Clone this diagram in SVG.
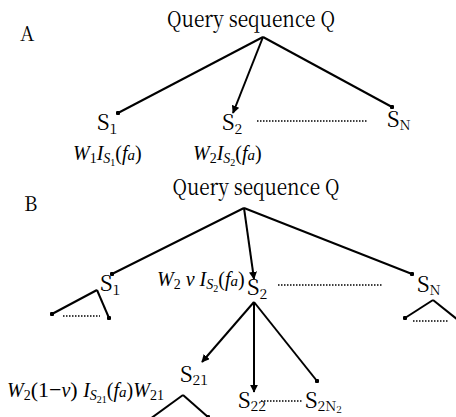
<svg xmlns="http://www.w3.org/2000/svg" width="456" height="417" viewBox="0 0 456 417">
<defs>
<marker id="arr" viewBox="0 0 10 10" refX="9" refY="5" markerWidth="4" markerHeight="4" orient="auto" markerUnits="strokeWidth">
<path d="M0,0 L10,5 L0,10 z" fill="#000"/>
</marker>
<marker id="dot" viewBox="0 0 10 10" refX="5" refY="5" markerWidth="2.2" markerHeight="2.2" markerUnits="strokeWidth">
<circle cx="5" cy="5" r="5" fill="#000"/>
</marker>
<style>
text{fill:#000}
.i{font-style:italic}
line{stroke:#000;stroke-width:2;fill:none}
.dots{stroke:#000;stroke-width:1.5;stroke-dasharray:1.5 1.5}
</style>
</defs>
<rect width="456" height="417" fill="#fff"/>

<g id="connectors">
<line x1="263" y1="37" x2="118" y2="113" marker-end="url(#dot)"/>
<line x1="263" y1="37" x2="233" y2="113" marker-end="url(#arr)"/>
<line x1="263" y1="37" x2="392" y2="107" marker-end="url(#dot)"/>
<line class="dots" x1="257" y1="121" x2="368" y2="121"/>
<line x1="244" y1="208" x2="112" y2="274" marker-end="url(#dot)"/>
<line x1="244" y1="208" x2="254" y2="279" marker-end="url(#arr)"/>
<line x1="244" y1="208" x2="412" y2="274" marker-end="url(#dot)"/>
<line class="dots" x1="278" y1="285" x2="383" y2="285"/>
<line x1="97" y1="290" x2="52" y2="314" marker-end="url(#dot)"/>
<line x1="97" y1="290" x2="109" y2="318" marker-end="url(#dot)"/>
<line class="dots" x1="63" y1="316" x2="100" y2="316"/>
<line x1="433" y1="300" x2="405" y2="318" marker-end="url(#dot)"/>
<line x1="433" y1="300" x2="458" y2="320"/>
<line class="dots" x1="413" y1="321" x2="448" y2="321"/>
<line x1="254" y1="302" x2="202" y2="362" marker-end="url(#arr)"/>
<line x1="254" y1="302" x2="254" y2="392" marker-end="url(#arr)"/>
<line x1="254" y1="302" x2="317" y2="381" marker-end="url(#dot)"/>
<line class="dots" x1="261" y1="401" x2="302" y2="401"/>
<line x1="183" y1="395" x2="150" y2="419"/>
<line x1="183" y1="395" x2="208" y2="417" marker-end="url(#dot)"/>
</g>

<g font-family="Noto Serif CJK SC, Liberation Serif, serif">
<g id="label-A"><text x="20" y="41" font-size="20" font-family="Noto Serif CJK SC, Liberation Serif, serif">A</text></g>
<g id="label-B"><text x="24" y="211" font-size="20" font-family="Noto Serif CJK SC, Liberation Serif, serif">B</text></g>

<g id="qA"><text x="251" y="27" font-size="22" font-family="Noto Serif CJK SC, Liberation Serif, serif" text-anchor="middle" textLength="168" lengthAdjust="spacingAndGlyphs">Query sequence Q</text></g>
<g id="qB"><text x="256" y="195" font-size="22" font-family="Noto Serif CJK SC, Liberation Serif, serif" text-anchor="middle" textLength="167" lengthAdjust="spacingAndGlyphs">Query sequence Q</text></g>

<g id="A-S1"><text x="97" y="130" font-size="22" font-family="Noto Serif CJK SC, Liberation Serif, serif">S<tspan font-size="14" dy="4">1</tspan></text></g>
<g id="A-S2"><text x="222" y="130" font-size="22" font-family="Noto Serif CJK SC, Liberation Serif, serif">S<tspan font-size="14" dy="4">2</tspan></text></g>
<g id="A-SN"><text x="387" y="127" font-size="22" font-family="Noto Serif CJK SC, Liberation Serif, serif">S<tspan font-size="14" dy="3">N</tspan></text></g>

<g id="B-S1"><text x="100" y="291" font-size="22" font-family="Noto Serif CJK SC, Liberation Serif, serif">S<tspan font-size="14" dy="4">1</tspan></text></g>
<g id="B-S2"><text x="247" y="295" font-size="22" font-family="Noto Serif CJK SC, Liberation Serif, serif">S<tspan font-size="14" dy="4">2</tspan></text></g>
<g id="B-SN"><text x="417" y="292" font-size="22" font-family="Noto Serif CJK SC, Liberation Serif, serif">S<tspan font-size="14" dy="3">N</tspan></text></g>
<g id="B-S21"><text x="180" y="382" font-size="22" font-family="Noto Serif CJK SC, Liberation Serif, serif">S<tspan font-size="14" dy="3">21</tspan></text></g>
<g id="B-S22"><text x="238" y="408" font-size="22" font-family="Noto Serif CJK SC, Liberation Serif, serif">S<tspan font-size="14" dy="3">22</tspan></text></g>
<g id="B-S2N2"><text x="305" y="408" font-size="22" font-family="Noto Serif CJK SC, Liberation Serif, serif">S<tspan font-size="14" dy="3">2N</tspan><tspan font-size="10" dy="2">2</tspan></text></g>
</g>

<g font-family="Liberation Serif, serif">
<g id="A-w1"><text x="73" y="160" font-size="20" font-family="Liberation Serif, serif"><tspan class="i">W</tspan><tspan font-size="14" dy="3">1</tspan><tspan class="i" dy="-3">I</tspan><tspan class="i" font-size="14" dy="3">S</tspan><tspan font-size="10" dy="3">1</tspan><tspan dy="-6">(</tspan><tspan class="i">f</tspan><tspan class="i" font-size="15">a</tspan><tspan>)</tspan></text></g>
<g id="A-w2"><text x="193" y="160" font-size="20" font-family="Liberation Serif, serif"><tspan class="i">W</tspan><tspan font-size="14" dy="3">2</tspan><tspan class="i" dy="-3">I</tspan><tspan class="i" font-size="14" dy="3">S</tspan><tspan font-size="10" dy="3">2</tspan><tspan dy="-6">(</tspan><tspan class="i">f</tspan><tspan class="i" font-size="15">a</tspan><tspan>)</tspan></text></g>
<g id="B-w2"><text x="157" y="286" font-size="20" font-family="Liberation Serif, serif"><tspan class="i">W</tspan><tspan font-size="14" dy="3">2</tspan><tspan class="i" dy="-3"> v </tspan><tspan class="i">I</tspan><tspan class="i" font-size="14" dy="3">S</tspan><tspan font-size="10" dy="3">2</tspan><tspan dy="-6">(</tspan><tspan class="i">f</tspan><tspan class="i" font-size="15">a</tspan><tspan>)</tspan></text></g>
<g id="B-w21"><text x="7" y="397" font-size="20" font-family="Liberation Serif, serif"><tspan class="i">W</tspan><tspan font-size="14" dy="3">2</tspan><tspan dy="-3" font-size="22">(1−</tspan><tspan class="i">v</tspan><tspan font-size="22">) </tspan><tspan class="i">I</tspan><tspan class="i" font-size="14" dy="3">S</tspan><tspan font-size="10" dy="3">21</tspan><tspan dy="-6">(</tspan><tspan class="i">f</tspan><tspan class="i" font-size="15">a</tspan><tspan>)</tspan><tspan class="i">W</tspan><tspan font-size="14" dy="3">21</tspan></text></g>
</g>
</svg>
